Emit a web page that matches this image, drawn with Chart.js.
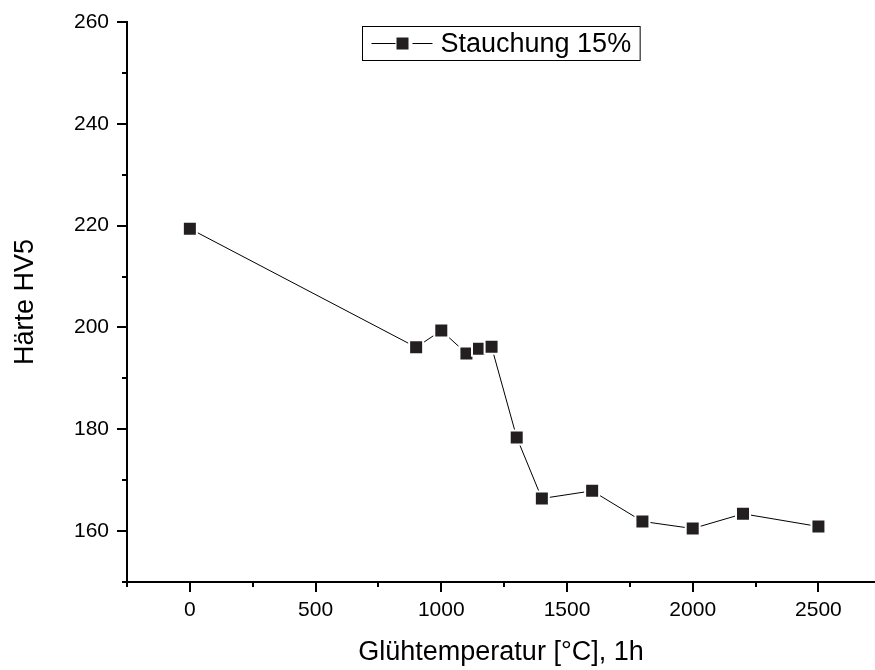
<!DOCTYPE html>
<html>
<head>
<meta charset="utf-8">
<script src="https://cdn.jsdelivr.net/npm/chart.js@4/dist/chart.umd.min.js"></script>
<style>
  body { margin: 0; background: #fff; }
</style>
</head>
<body>
<canvas id="haerteChart" width="875" height="670"></canvas>
<script>
// annealing temperature vs. hardness, 15% compression
var temperatures = [0, 900, 1000, 1100, 1150, 1200, 1300, 1400, 1600, 1800, 2000, 2200, 2500];
var hardness = [219.4, 196.1, 199.4, 194.9, 195.8, 196.2, 178.4, 166.4, 167.9, 161.9, 160.5, 163.4, 160.9];

var xTicks = [0, 500, 1000, 1500, 2000, 2500];
var yTicks = [160, 180, 200, 220, 240, 260];
var seriesLabel = 'Stauchung 15%';

var fontFamily = '"Liberation Sans", Arial, sans-serif';
Chart.defaults.color = '#000';
Chart.defaults.font.family = fontFamily;

// Origin style ticks: long ones at labels, short ones halfway between
var axisTicks = {
    id: 'axisTicks',
    afterDraw: function (chart) {
        var ctx = chart.ctx;
        var area = chart.chartArea;
        var xs = chart.scales.x, ys = chart.scales.y;
        ctx.save();
        ctx.strokeStyle = '#000';
        ctx.lineWidth = 2;
        ctx.beginPath();
        for (var v = xs.min; v <= xs.max; v += 250) {
            var px = Math.round(xs.getPixelForValue(v));
            var len = xTicks.indexOf(v) >= 0 ? 10 : 5;
            ctx.moveTo(px, area.bottom);
            ctx.lineTo(px, area.bottom + len);
        }
        for (var w = ys.min; w <= ys.max; w += 10) {
            var py = Math.round(ys.getPixelForValue(w));
            var l = yTicks.indexOf(w) >= 0 ? 10 : 5;
            ctx.moveTo(area.left, py);
            ctx.lineTo(area.left - l, py);
        }
        ctx.stroke();
        ctx.restore();
    }
};

// boxed legend at the top of the plot: line - square - line, then the label
var boxLegend = {
    id: 'boxLegend',
    afterDraw: function (chart) {
        var ctx = chart.ctx;
        var area = chart.chartArea;
        ctx.save();
        ctx.font = '27px ' + fontFamily;
        var tw = ctx.measureText(seriesLabel).width;
        var w = 9 + 61 + 8 + tw + 9;
        var h = 34;
        var left = Math.round((area.left + area.right) / 2 - w / 2) + 0.5;
        var top = 26.5;
        ctx.strokeStyle = '#000';
        ctx.lineWidth = 1;
        ctx.strokeRect(left, top, w, h);
        var cy = top + h / 2;
        ctx.beginPath();
        ctx.moveTo(left + 9, cy);
        ctx.lineTo(left + 33, cy);
        ctx.moveTo(left + 50, cy);
        ctx.lineTo(left + 70, cy);
        ctx.stroke();
        ctx.fillStyle = '#231f20';
        ctx.fillRect(left + 34, cy - 6, 12, 12);
        ctx.fillStyle = '#000';
        ctx.textBaseline = 'middle';
        ctx.textAlign = 'left';
        ctx.fillText(seriesLabel, left + 78, cy + 1);
        ctx.restore();
    }
};

function noEdgePadding(scale) {
    scale.paddingTop = 0;
    scale.paddingBottom = 0;
    scale.paddingLeft = 0;
    scale.paddingRight = 0;
}

new Chart('haerteChart', {
    type: 'line',
    data: {
        datasets: [{
            label: seriesLabel,
            data: temperatures.map(function (t, i) { return { x: t, y: hardness[i] }; }),
            borderColor: '#000',
            borderWidth: 1,
            fill: false,
            tension: 0,
            pointStyle: 'rect',
            pointRadius: 9.9,
            pointBackgroundColor: '#231f20',
            pointBorderColor: '#fff',
            pointBorderWidth: 2
        }]
    },
    options: {
        responsive: false,
        animation: false,
        events: [],
        layout: {
            autoPadding: false,
            padding: { top: 22, right: 0, bottom: 0, left: 0 }
        },
        plugins: {
            legend: { display: false },
            tooltip: { enabled: false }
        },
        scales: {
            x: {
                type: 'linear',
                min: -250,
                max: 2725,
                grid: { display: false, drawTicks: false },
                border: { display: true, color: '#000', width: 2 },
                afterBuildTicks: function (scale) {
                    scale.ticks = xTicks.map(function (v) { return { value: v }; });
                },
                afterFit: function (scale) {
                    scale.height = 88;
                    noEdgePadding(scale);
                },
                ticks: {
                    padding: 16,
                    maxRotation: 0,
                    font: { size: 21 },
                    callback: function (v) { return String(v); }
                },
                title: {
                    display: true,
                    text: 'Glühtemperatur [°C], 1h',
                    font: { size: 27 },
                    padding: { top: 0, bottom: 1 }
                }
            },
            y: {
                min: 150,
                max: 260,
                grid: { display: false, drawTicks: false },
                border: { display: true, color: '#000', width: 2 },
                afterBuildTicks: function (scale) {
                    scale.ticks = yTicks.map(function (v) { return { value: v }; });
                },
                afterFit: function (scale) {
                    scale.width = 127;
                    noEdgePadding(scale);
                },
                ticks: {
                    padding: 18,
                    font: { size: 21 },
                    callback: function (v) { return String(v); }
                },
                title: {
                    display: true,
                    text: 'Härte HV5',
                    font: { size: 27 },
                    padding: { top: 9, bottom: 0 }
                }
            }
        }
    },
    plugins: [axisTicks, boxLegend]
});
</script>
</body>
</html>
